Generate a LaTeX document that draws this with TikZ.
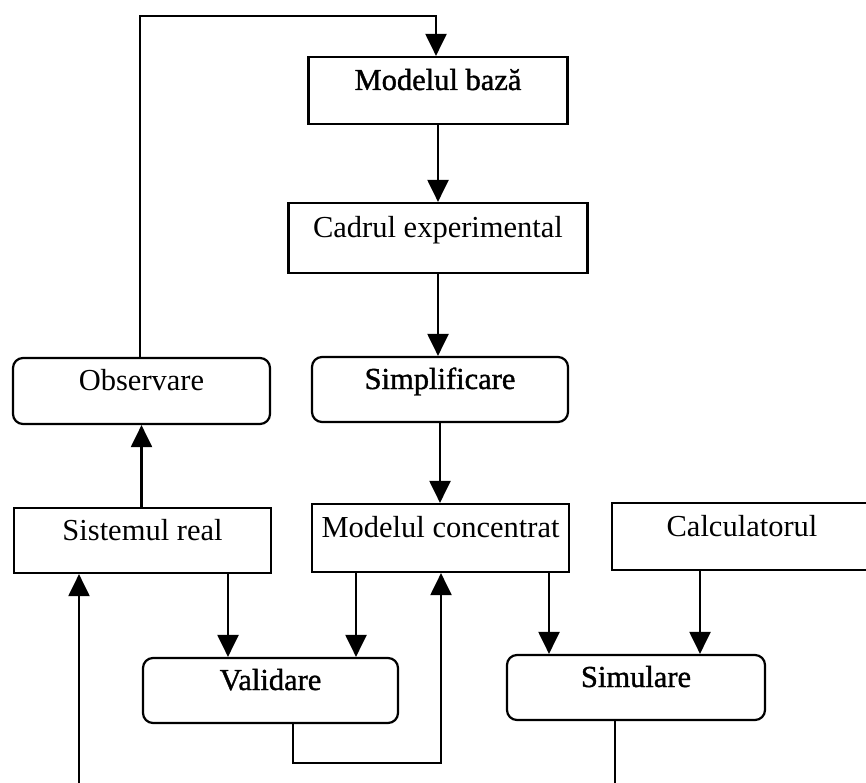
\documentclass[tikz,border=0pt]{standalone}
\usepackage{fontspec}
\setmainfont{Liberation Serif}
\newfontface\heavyface{Liberation Serif}[FakeBold=1.2]
\usetikzlibrary{arrows.meta}

\begin{document}
\begin{tikzpicture}[x=1pt,y=-1pt,
  line width=2.2pt,
  font=\fontsize{30.5}{36}\selectfont,
  box/.style={draw, rectangle, inner sep=0pt, text height=20pt, text depth=21pt},
  roundbox/.style={box, rounded corners=10pt},
  arr/.style={-{Triangle[length=22pt,width=21pt]}}
]
\useasboundingbox (0,0) rectangle (866,783);

% blocks
\node[box, minimum width=259pt, minimum height=67pt] (baza) at (438,90.5) {\heavyface Modelul bază};
\node[box, minimum width=299pt, minimum height=70pt] (cadru) at (438,238) {Cadrul experimental};
\node[roundbox, minimum width=257pt, minimum height=66pt] (obs) at (141.5,391) {Observare};
\node[roundbox, minimum width=256pt, minimum height=65pt] (simp) at (440,389.5) {\heavyface Simplificare};
\node[box, minimum width=257pt, minimum height=65pt] (sist) at (142.5,540.5) {Sistemul real};
\node[box, minimum width=257pt, minimum height=68pt] (conc) at (440.5,538) {Modelul concentrat};
\node[box, minimum width=260pt, minimum height=67pt] (calc) at (742,536.5) {Calculatorul};
\node[roundbox, minimum width=255pt, minimum height=65pt] (vali) at (270.5,690.5) {\heavyface Validare};
\node[roundbox, minimum width=258pt, minimum height=65pt] (simu) at (636,687.5) {\heavyface Simulare};

% routing points
\coordinate (tl) at (140,16);
\coordinate (tr) at (436,16);
\coordinate (xa) at (228,0);
\coordinate (xb) at (356,0);
\coordinate (lb) at (293,763);
\coordinate (rb) at (441,763);
\coordinate (xc) at (549,0);
\coordinate (xd) at (700,0);
\coordinate (simend) at (615,790);
\coordinate (sisend) at (79,790);

% connectors
\draw[arr] (obs.north -| tl) -- (tl) -- (tr) -- (tr |- baza.north);
\draw[arr] (baza.south) -- (cadru.north);
\draw[arr] (cadru.south) -- (simp.north -| cadru.south);
\draw[arr] (simp.south) -- (conc.north -| simp.south);
\draw[arr] (sist.north -| obs.south) -- (obs.south);
\draw[arr] (sist.south -| xa) -- (vali.north -| xa);
\draw[arr] (conc.south -| xb) -- (vali.north -| xb);
\draw[arr] (vali.south -| lb) -- (lb) -- (rb) -- (conc.south -| rb);
\draw[arr] (conc.south -| xc) -- (simu.north -| xc);
\draw[arr] (calc.south -| xd) -- (simu.north -| xd);
\draw (simu.south -| simend) -- (simend);
\draw[arr] (sisend) -- (sist.south -| sisend);
\end{tikzpicture}
\end{document}
